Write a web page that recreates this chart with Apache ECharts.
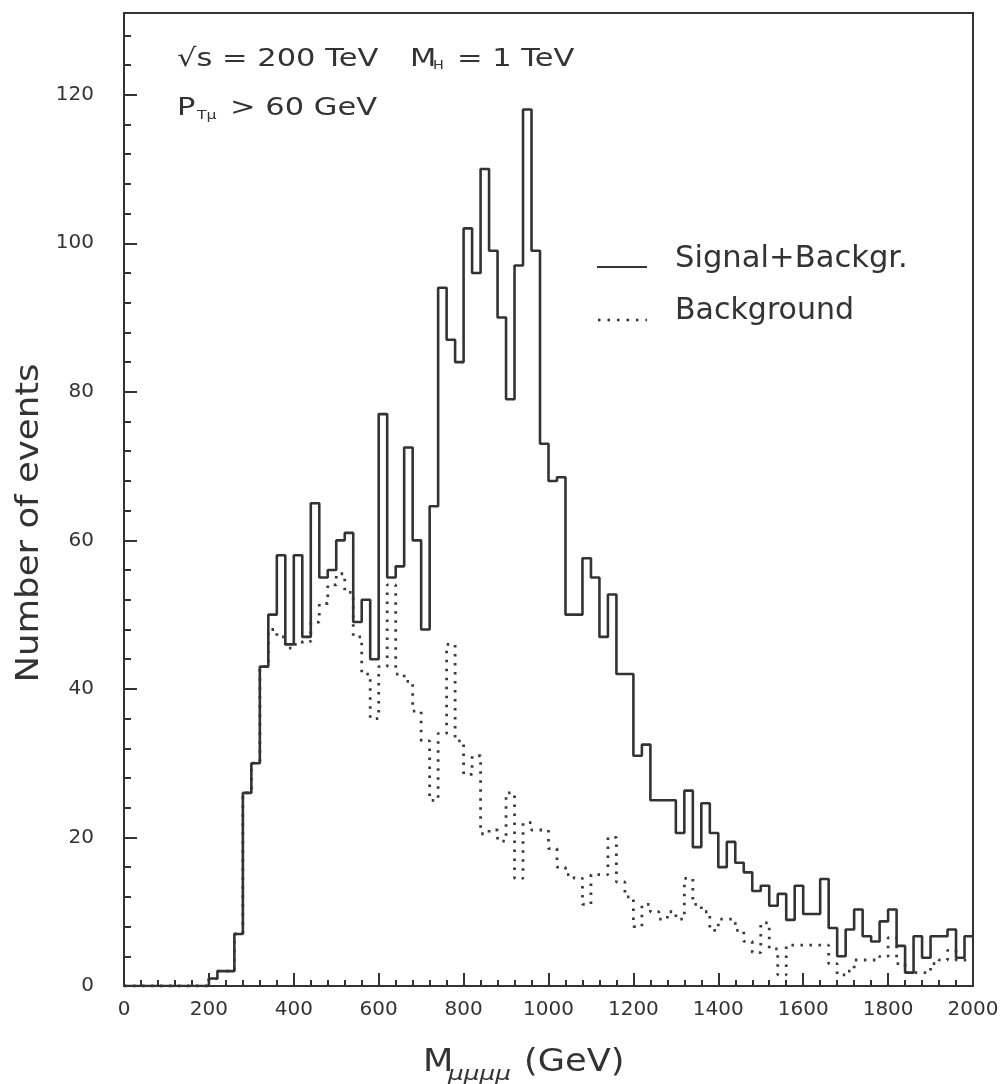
<!DOCTYPE html>
<html>
<head>
<meta charset="utf-8">
<script src="https://cdn.jsdelivr.net/npm/echarts@6/dist/echarts.min.js"></script>
<style>
html, body { margin: 0; padding: 0; background: #fff; }
#main { width: 1005px; height: 1084px; }
</style>
</head>
<body>
<div id="main"></div>
<script>
// histogram, 100 bins of 20 GeV from 0 to 2000
var binWidth = 20;

var signalBackgr = [
	0, 0, 0, 0, 0, 0, 0, 0, 0, 0,
	1, 2, 2, 7, 26, 30, 43, 50, 58, 46,
	58, 47, 65, 55, 56, 60, 61, 49, 52, 44,
	77, 55, 56.5, 72.5, 60, 48, 64.6, 94, 87, 84,
	102, 96, 110, 99, 90, 79, 97, 118, 99, 73,
	68, 68.5, 50, 50, 57.6, 55, 47, 52.7, 42, 42,
	31, 32.5, 25, 25, 25, 20.6, 26.3, 18.7, 24.6, 20.6,
	16, 19.4, 16.6, 15.3, 12.8, 13.5, 10.8, 12.4, 8.9, 13.5,
	9.7, 9.7, 14.4, 7.8, 4, 7.6, 10.3, 6.7, 6, 8.7,
	10.3, 5.4, 1.8, 6.7, 3.8, 6.7, 6.7, 7.6, 3.8, 6.7
];

var background = [
	0, 0, 0, 0, 0, 0, 0, 0, 0, 0,
	1, 2, 2, 7, 26, 30, 43, 48, 47, 45.5,
	46, 46.4, 49, 51.5, 54, 55.5, 53, 47, 42, 36,
	43, 54, 42, 41, 37, 33, 25, 34, 46, 33,
	28.5, 31, 20.5, 21, 19.5, 26, 14.5, 22, 21, 21,
	18.5, 16, 15, 14.5, 11, 15, 15, 20, 14, 12,
	8, 11, 10, 9, 10, 9, 14.5, 11, 10, 7.5,
	9, 9, 7.5, 6, 4.5, 8.5, 5, 1.5, 5.5, 5.5,
	5.5, 5.5, 5.5, 3, 1.5, 2, 3.5, 3.5, 3.5, 4,
	6.5, 3, 1.8, 1.8, 1.8, 3, 3.5, 4.8, 3.5, 3.5
];

var legendNames = ['Signal+Backgr.', 'Background'];

function toSteps(vals) {
	var d = [];
	for (var i = 0; i < vals.length; i++) {
		d.push([i * binWidth, vals[i]]);
	}
	d.push([vals.length * binWidth, vals[vals.length - 1]]);
	return d;
}

var ink = '#333';
var fam = '"DejaVu Sans", sans-serif';

function txt(x, y, s, font, sx, extra) {
	var el = {
		type: 'text',
		x: x,
		y: y,
		scaleX: sx || 1,
		style: {
			text: s,
			font: font + ' ' + fam,
			fill: ink,
			align: 'left',
			textAlign: 'left',
			verticalAlign: 'middle',
			textVerticalAlign: 'middle'
		}
	};
	if (extra) {
		for (var k in extra) el[k] = extra[k];
	}
	return el;
}

var chart = echarts.init(document.getElementById('main'));

var yTitle = txt(30, 523, 'Number of events', '32px', 1.11, { rotation: Math.PI / 2 });
yTitle.style.align = 'center';
yTitle.style.textAlign = 'center';

var option = {
	animation: false,
	backgroundColor: '#fff',
	grid: {
		left: 124,
		right: 32,
		top: 13,
		bottom: 98,
		show: true,
		borderColor: ink,
		borderWidth: 2
	},
	xAxis: {
		type: 'value',
		min: 0,
		max: 2000,
		interval: 200,
		axisLine: { lineStyle: { color: ink, width: 2 } },
		axisTick: { inside: true, length: 13, lineStyle: { color: ink, width: 2 } },
		minorTick: { show: true, splitNumber: 5, length: 6, lineStyle: { color: ink, width: 2 } },
		axisLabel: {
			color: ink, fontSize: 20, fontFamily: fam, margin: 14,
			formatter: function (v) { return String(v); }
		},
		splitLine: { show: false }
	},
	yAxis: [{
		type: 'value',
		min: 0,
		max: 131,
		interval: 20,
		axisLine: { show: true, lineStyle: { color: ink, width: 2 } },
		axisTick: { inside: true, length: 13, lineStyle: { color: ink, width: 2 } },
		axisLabel: { color: ink, fontSize: 20, fontFamily: fam, margin: 30, showMaxLabel: false },
		splitLine: { show: false }
	}, {
		// minor ticks every 4 events
		type: 'value',
		position: 'left',
		offset: 0,
		min: 0,
		max: 131,
		interval: 4,
		axisLine: { show: false },
		axisTick: { show: true, inside: true, length: 7, lineStyle: { color: ink, width: 2 } },
		axisLabel: { show: false },
		splitLine: { show: false }
	}],
	series: [{
		name: legendNames[1],
		type: 'line',
		step: 'end',
		symbol: 'none',
		data: toSteps(background),
		lineStyle: { color: '#3a3a3a', width: 2.8, type: [2.5, 6.5] },
		z: 2
	}, {
		name: legendNames[0],
		type: 'line',
		step: 'end',
		symbol: 'none',
		data: toSteps(signalBackgr),
		lineStyle: { color: ink, width: 2.6 },
		z: 3
	}],
	graphic: [
		// annotation lines
		txt(177, 59, '\u221As = 200 TeV', '25px', 1.22),
		txt(410, 59, 'M', '25px', 1.22),
		txt(433, 66, 'H', '12px', 1.2),
		txt(457, 59, '= 1 TeV', '25px', 1.22),
		txt(177, 108, 'P', '25px', 1.22),
		txt(197, 116, 'T\u03BC', '13px', 1.2),
		txt(230, 108, '> 60 GeV', '25px', 1.22),
		// legend
		{ type: 'line', shape: { x1: 597, y1: 267, x2: 647, y2: 267 }, style: { stroke: ink, lineWidth: 2 } },
		{ type: 'line', shape: { x1: 598, y1: 320, x2: 647, y2: 320 }, style: { stroke: ink, lineWidth: 2.5, lineDash: [2.5, 7] } },
		txt(675, 259, legendNames[0], '30px', 1.02),
		txt(675, 311, legendNames[1], '30px', 1.0),
		// axis titles
		yTitle,
		txt(423, 1063, 'M', '32px', 1.1),
		txt(448, 1075, '\u03BC\u03BC\u03BC\u03BC', 'italic 19px', 1.3),
		txt(524, 1063, '(GeV)', '32px', 1.1)
	]
};

chart.setOption(option);
</script>
</body>
</html>
